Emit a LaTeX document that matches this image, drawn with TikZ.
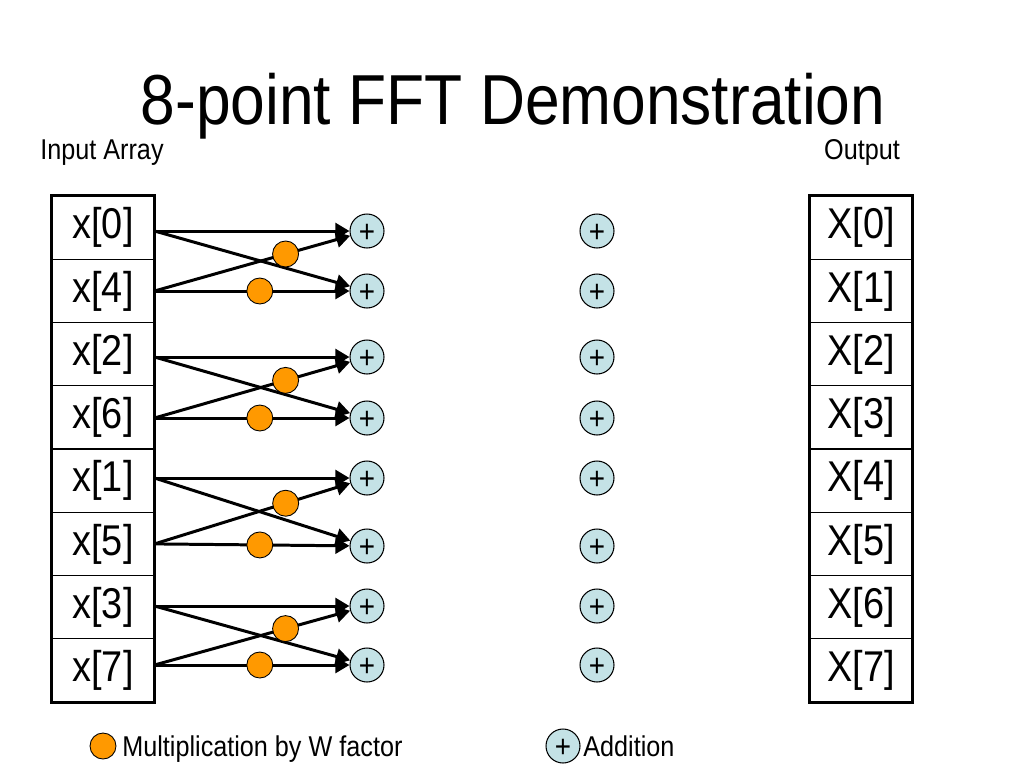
\documentclass[tikz,border=0pt]{standalone}
\usepackage{fontspec}
\setmainfont{Liberation Sans}[FakeStretch=0.88]
\usetikzlibrary{arrows.meta}
\definecolor{addblue}{RGB}{196,226,230}
\definecolor{worange}{RGB}{255,153,0}
\newcommand{\plussign}{\raisebox{-1.2pt}[\height][\depth]{+}}
\tikzset{
  cell/.style={draw, line width=0.6pt, minimum width=2.04cm, minimum height=1.265cm, inner sep=0pt, font=\fontsize{24.5}{24.5}\selectfont},
  add/.style={circle, draw, line width=0.6pt, fill=addblue, minimum size=0.68cm, inner sep=0pt, font=\fontsize{18}{18}\selectfont},
  mul/.style={circle, draw, line width=0.5pt, fill=worange, minimum size=0.52cm, inner sep=0pt},
  flow/.style={line width=1.7pt, -{Triangle[length=8pt,width=9pt]}},
  caption/.style={anchor=base, inner sep=0pt, font=\fontsize{16.3}{16.3}\selectfont},
}

\begin{document}
\begin{tikzpicture}[x=0.02cm, y=-0.02cm]
\useasboundingbox (0,0) rectangle (1024,768);
\node[anchor=base, inner sep=0pt, font=\fontsize{40.3}{40.3}\selectfont] (title) at (513,124) {8-point FFT Demonstration};
\node[caption] (inlabel) at (102,159) {Input Array};
\node[caption] (outlabel) at (862,159) {Output};

\node[cell] (x0) at (103,227.6) {x[0]};
\node[cell] (x4) at (103,290.9) {x[4]};
\node[cell] (x2) at (103,354.1) {x[2]};
\node[cell] (x6) at (103,417.4) {x[6]};
\node[cell] (x1) at (103,480.6) {x[1]};
\node[cell] (x5) at (103,543.9) {x[5]};
\node[cell] (x3) at (103,607.1) {x[3]};
\node[cell] (x7) at (103,670.4) {x[7]};
\draw[line width=1.7pt] (x0.north west) rectangle (x7.south east);

\node[cell] (X0) at (861,227.6) {X[0]};
\node[cell] (X1) at (861,290.9) {X[1]};
\node[cell] (X2) at (861,354.1) {X[2]};
\node[cell] (X3) at (861,417.4) {X[3]};
\node[cell] (X4) at (861,480.6) {X[4]};
\node[cell] (X5) at (861,543.9) {X[5]};
\node[cell] (X6) at (861,607.1) {X[6]};
\node[cell] (X7) at (861,670.4) {X[7]};
\draw[line width=1.7pt] (X0.north west) rectangle (X7.south east);

\node[add] (s0) at (367,231) {\plussign};
\node[add] (s1) at (367,291) {\plussign};
\node[add] (s2) at (367,357) {\plussign};
\node[add] (s3) at (367,418) {\plussign};
\node[add] (s4) at (367,478) {\plussign};
\node[add] (s5) at (367,546) {\plussign};
\node[add] (s6) at (367,606) {\plussign};
\node[add] (s7) at (367,665) {\plussign};

\node[add] (t0) at (597,231) {\plussign};
\node[add] (t1) at (597,291) {\plussign};
\node[add] (t2) at (597,357) {\plussign};
\node[add] (t3) at (597,418) {\plussign};
\node[add] (t4) at (597,478) {\plussign};
\node[add] (t5) at (597,546) {\plussign};
\node[add] (t6) at (597,606) {\plussign};
\node[add] (t7) at (597,665) {\plussign};

\draw[flow] (x0.east |- s0) -- (s0);
\draw[flow] (x0.east |- s0) -- (s1);
\draw[flow] (x4.east |- s1) -- node[mul, pos=0.67] (w0) {} (s0);
\draw[flow] (x4.east |- s1) -- node[mul, pos=0.54] (w1) {} (s1);

\draw[flow] (x2.east |- s2) -- (s2);
\draw[flow] (x2.east |- s2) -- (s3);
\draw[flow] (x6.east |- s3) -- node[mul, pos=0.67] (w2) {} (s2);
\draw[flow] (x6.east |- s3) -- node[mul, pos=0.54] (w3) {} (s3);

\draw[flow] (x1.east |- s4) -- (s4);
\draw[flow] (x1.east |- s4) -- (s5);
\draw[flow] (x5.east) -- node[mul, pos=0.67] (w4) {} (s4);
\draw[flow] (x5.east) -- node[mul, pos=0.54] (w5) {} (s5);

\draw[flow] (x3.east |- s6) -- (s6);
\draw[flow] (x3.east |- s6) -- (s7);
\draw[flow] (x7.east |- s7) -- node[mul, pos=0.67] (w6) {} (s6);
\draw[flow] (x7.east |- s7) -- node[mul, pos=0.54] (w7) {} (s7);

\node[mul] (keymul) at (103,746) {};
\node[caption, anchor=base west] (keymultext) at (122,756) {Multiplication by W factor};
\node[add] (keyadd) at (563,746) {\plussign};
\node[caption, anchor=base west] (keyaddtext) at (583,756) {Addition};
\end{tikzpicture}
\end{document}
